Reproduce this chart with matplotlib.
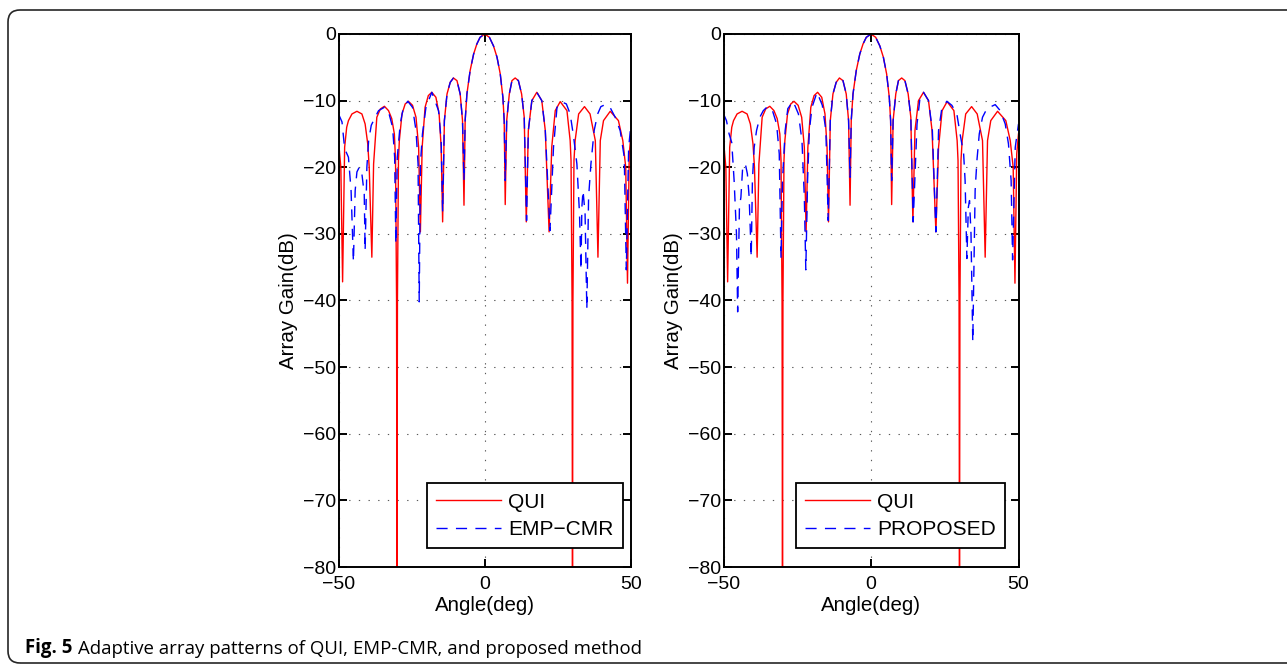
import matplotlib
matplotlib.use("Agg")
import matplotlib.pyplot as plt
from matplotlib.patches import FancyBboxPatch

# values: angle (deg) / gain (dB) at lobe peaks, shoulders and nulls
qui_angle = [-50.0, -49.2, -48.6, -47.9, -47.2, -46.6, -45.4, -43.7, -42.0, -40.9, -40.0, -39.5, -38.6,
             -38.0, -36.9, -35.7, -34.3, -32.9, -31.8, -30.9, -30.5, -30.15, -30.0, -29.85, -29.5, -29.2,
             -28.3, -27.2, -26.1, -24.7, -23.5, -22.6, -22.0, -21.4, -20.4, -19.3, -18.1, -16.7, -15.6,
             -14.9, -14.4, -13.8, -12.9, -11.8, -10.7, -9.5, -8.4, -7.6, -7.1, -6.7, -6.1, -5.0, -3.8,
             -2.7, -1.6, 0.0, 1.6, 3.0, 4.2, 5.3, 6.2, 6.65, 7.0, 7.5, 8.4, 9.3, 10.4, 11.5, 12.6, 13.5,
             14.2, 14.9, 16.1, 17.8, 19.5, 20.7, 22.0, 22.9, 24.1, 25.8, 28.1, 29.2, 29.5, 29.85, 30.0,
             30.15, 30.5, 30.9, 32.1, 34.1, 36.0, 37.8, 38.7, 39.5, 40.6, 42.9, 45.7, 47.2, 48.2, 48.8,
             49.4, 50.0]
qui_gain = [-16.0, -20.0, -37.2, -17.0, -14.0, -13.0, -12.0, -11.6, -12.0, -13.5, -16.5, -20.0, -33.5,
            -19.5, -12.5, -11.25, -10.85, -11.5, -12.7, -15.0, -19.0, -40.0, -85.0, -40.0, -19.0, -16.0,
            -12.0, -10.5, -10.1, -10.7, -12.5, -17.0, -29.7, -17.0, -11.0, -9.25, -8.75, -9.5, -12.0,
            -17.0, -28.2, -13.0, -9.0, -7.25, -6.6, -7.0, -9.0, -13.0, -25.7, -13.0, -9.0, -5.5, -3.0,
            -1.5, -0.5, 0.0, -0.5, -1.8, -3.5, -6.0, -9.5, -13.0, -25.6, -13.0, -9.0, -7.0, -6.6, -7.0,
            -9.0, -12.5, -28.2, -14.5, -10.0, -8.75, -10.0, -14.5, -29.7, -17.0, -11.5, -10.15, -11.5,
            -16.0, -19.0, -40.0, -85.0, -40.0, -19.0, -16.0, -12.0, -10.9, -12.0, -16.0, -33.5, -16.0,
            -13.0, -11.6, -13.0, -16.0, -20.0, -37.4, -18.0, -15.0]

emp_angle = [-50.0, -48.8, -47.9, -46.6, -45.7, -44.9, -44.3, -43.7, -42.9, -42.0, -41.2, -40.9, -40.3,
             -39.7, -38.8, -37.7, -36.3, -34.3, -32.7, -31.5, -30.8, -30.4, -29.9, -28.9, -27.8, -26.3,
             -24.7, -23.5, -22.8, -22.4, -22.0, -21.3, -20.1, -18.1, -15.8, -14.9, -14.4, -13.8, -12.9,
             -11.8, -10.7, -9.5, -8.4, -7.6, -7.1, -6.7, -6.1, -5.0, -3.8, -2.7, -1.6, 0.0, 1.6, 3.0,
             4.2, 5.3, 6.2, 6.65, 7.0, 7.5, 8.4, 9.3, 10.4, 11.5, 12.6, 13.5, 14.3, 14.9, 16.1, 17.8,
             19.5, 20.7, 22.3, 23.5, 24.7, 26.4, 27.9, 29.2, 30.4, 31.5, 32.4, 32.9, 33.2, 33.6, 34.3,
             34.9, 35.5, 36.3, 37.4, 38.6, 39.7, 41.2, 42.7, 44.6, 46.3, 47.7, 48.4, 49.2, 50.0]
emp_gain = [-12.0, -13.2, -17.2, -18.5, -23.5, -34.2, -23.5, -20.7, -20.0, -21.0, -24.0, -32.5, -20.0,
            -16.0, -13.7, -12.7, -11.5, -11.0, -12.0, -14.0, -18.5, -31.5, -18.5, -13.5, -11.0, -10.1,
            -11.0, -14.5, -19.5, -40.2, -19.5, -15.0, -11.0, -8.75, -11.5, -16.0, -26.7, -13.0, -9.0,
            -7.25, -6.6, -7.0, -9.0, -13.0, -22.0, -13.0, -9.0, -5.5, -3.0, -1.5, -0.5, 0.0, -0.5, -1.8,
            -3.5, -6.0, -9.5, -13.0, -22.0, -13.0, -9.0, -7.0, -6.6, -7.0, -9.0, -12.5, -28.0, -14.5,
            -10.0, -8.75, -10.0, -14.5, -29.5, -17.0, -11.0, -10.2, -10.5, -12.0, -15.5, -19.5, -27.0,
            -35.4, -26.0, -23.5, -27.0, -41.3, -24.5, -19.5, -14.5, -12.0, -10.9, -10.6, -10.9, -12.5,
            -14.5, -18.5, -35.4, -17.0, -13.5]

prop_angle = [-50.0, -49.0, -48.1, -47.2, -46.4, -45.6, -45.2, -44.6, -44.1, -43.5, -42.6, -41.9, -41.3,
              -40.6, -40.2, -39.6, -38.8, -37.7, -36.5, -35.1, -33.4, -32.0, -31.1, -30.5, -30.0, -29.1,
              -28.2, -26.4, -24.6, -23.4, -22.6, -22.1, -21.5, -20.9, -20.0, -18.3, -16.5, -15.3, -14.5,
              -13.8, -12.9, -11.8, -10.7, -9.5, -8.4, -7.6, -7.1, -6.7, -6.1, -5.0, -3.8, -2.7, -1.6,
              0.0, 1.6, 3.0, 4.2, 5.3, 6.2, 6.65, 7.0, 7.5, 8.4, 9.3, 10.4, 11.5, 12.6, 13.5, 14.3, 15.6,
              16.7, 17.8, 19.5, 20.8, 22.0, 22.9, 24.0, 25.7, 27.4, 29.1, 30.2, 31.4, 31.9, 32.5, 33.0,
              33.4, 33.9, 34.5, 35.3, 35.9, 36.7, 37.8, 39.3, 42.1, 43.8, 45.5, 46.6, 47.5, 48.0, 48.9,
              50.0]
prop_gain = [-12.0, -13.0, -15.0, -16.3, -22.0, -30.0, -41.7, -26.0, -24.5, -20.0, -19.5, -21.0, -24.5,
             -33.5, -22.0, -17.0, -14.5, -12.5, -11.5, -10.9, -11.5, -13.5, -18.0, -33.7, -22.0, -14.5,
             -11.2, -10.1, -12.0, -16.0, -24.5, -35.4, -22.0, -14.5, -11.0, -8.75, -10.7, -14.5, -28.0,
             -13.0, -9.0, -7.25, -6.6, -7.0, -9.0, -13.0, -21.5, -13.0, -9.0, -5.5, -3.0, -1.5, -0.5,
             0.0, -0.5, -1.8, -3.5, -6.0, -9.5, -13.0, -22.0, -13.0, -9.0, -7.0, -6.6, -7.0, -9.0, -12.5,
             -28.2, -13.5, -9.25, -8.75, -10.0, -14.5, -29.7, -14.5, -11.2, -10.1, -10.7, -12.0, -15.0,
             -18.0, -22.0, -33.7, -26.0, -25.0, -30.0, -46.2, -23.5, -19.0, -15.0, -12.5, -11.2, -10.6,
             -11.5, -13.5, -16.5, -22.0, -33.9, -17.0, -13.5]

x_ticks = [-50, 0, 50]
y_ticks = [0, -10, -20, -30, -40, -50, -60, -70, -80]
caption_bold = "Fig. 5"
caption_text = "Adaptive array patterns of QUI, EMP-CMR, and proposed method"

W, H = 1287, 668


def pattern_axes(fig, rect, blue_angle, blue_gain, blue_name, legend_right):
    ax = fig.add_axes(rect)
    ax.plot(qui_angle, qui_gain, color=(1, 0, 0), lw=1.0, label="QUI")
    ax.plot(blue_angle, blue_gain, color=(0, 0, 1), lw=1.0, ls=(0, (8, 6)), label=blue_name)
    ax.set_xlim(-50, 50)
    ax.set_ylim(-80, 0)
    ax.set_xticks(x_ticks)
    ax.set_yticks(y_ticks)
    ax.grid(True, color="0.35", lw=0.8, ls=(0, (1.2, 7.5)))
    ax.tick_params(direction="in", length=6, width=1.4, top=True, right=True, labelsize=14)
    ax.tick_params(axis="x", pad=6.5)
    ax.tick_params(axis="y", pad=1.5)
    for s in ax.spines.values():
        s.set_linewidth(1.4)
    ax.set_xlabel("Angle(deg)", fontsize=14.8, labelpad=2)
    ax.set_ylabel("Array Gain(dB)", fontsize=14.8, labelpad=4)
    leg = ax.legend(loc="lower right", bbox_to_anchor=(legend_right, 0.035), borderaxespad=0,
                    fontsize=15, fancybox=False, framealpha=1, edgecolor="black",
                    handlelength=3.1, handletextpad=0.35, borderpad=0.45, labelspacing=0.4)
    leg.get_frame().set_linewidth(1.3)
    return ax


def main():
    plt.rcParams["font.family"] = ["Liberation Sans", "DejaVu Sans"]
    fig = plt.figure(figsize=(W / 100, H / 100), dpi=100)

    pattern_axes(fig, [338.5 / W, 1 - 567 / H, 292.5 / W, 533 / H],
                 emp_angle, emp_gain, "EMP\u2212CMR", 0.972)
    pattern_axes(fig, [723.5 / W, 1 - 567 / H, 295 / W, 533 / H],
                 prop_angle, prop_gain, "PROPOSED", 0.955)

    # rounded frame of the figure panel, open to the right edge
    frame = FancyBboxPatch((0.08, 0.05), 13.5, 6.53, boxstyle="round,pad=0,rounding_size=0.12",
                           transform=fig.dpi_scale_trans, fill=False, ec="0.15", lw=1.2)
    fig.add_artist(frame)

    t = fig.text(25 / W, 1 - 653 / H, caption_bold, fontsize=13.4, fontweight="bold",
                 family=["Open Sans", "DejaVu Sans"], va="baseline")
    plt.annotate(caption_text, xy=(1, 0), xycoords=t, xytext=(4, 0), textcoords="offset points",
                 fontsize=13.4, family=["Open Sans", "DejaVu Sans"], va="bottom")

    fig.savefig("out.png", dpi=100)


if __name__ == "__main__":
    main()
